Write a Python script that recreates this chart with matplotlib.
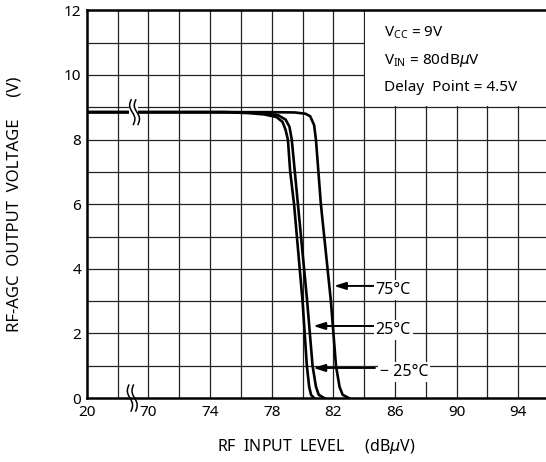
import numpy as np
import matplotlib
matplotlib.use('Agg')
import matplotlib.pyplot as plt
from matplotlib.patches import Rectangle

plt.rcParams['font.family'] = ['Noto Sans', 'DejaVu Sans']

# RF input level (dBuV) vs RF-AGC output voltage (V)
x_m25 = [66, 75, 76.5, 77.5, 78.3, 78.7, 78.9, 79.05, 79.2, 79.45, 80.0, 80.28, 80.43, 80.55, 80.75]
v_m25 = [8.85, 8.85, 8.82, 8.78, 8.7, 8.55, 8.3, 8.0, 7.0, 6.0, 3.0, 1.0, 0.35, 0.1, 0.0]
x_25 = [66, 75, 76.5, 77.5, 78.4, 78.9, 79.15, 79.3, 79.5, 79.7, 80.3, 80.65, 80.87, 81.05, 81.4]
v_25 = [8.85, 8.85, 8.84, 8.82, 8.76, 8.62, 8.4, 8.0, 7.0, 6.0, 3.0, 1.0, 0.35, 0.1, 0.0]
x_75 = [66, 78, 79.5, 80.2, 80.5, 80.75, 80.87, 81.03, 81.19, 81.84, 82.17, 82.4, 82.6, 83.0]
v_75 = [8.85, 8.85, 8.84, 8.8, 8.72, 8.45, 8.0, 7.0, 6.0, 3.0, 1.0, 0.35, 0.1, 0.0]

xticks = [66, 70, 74, 78, 82, 86, 90, 94]
xticklabels = ['20', '70', '74', '78', '82', '86', '90', '94']
yticks = [0, 2, 4, 6, 8, 10, 12]

labels = ['75°C', '25°C', '− 25°C']
arrow_tips = [(82.04, 3.47), (80.7, 2.23), (80.7, 0.93)]

conditions = ['V$_{\\mathregular{CC}}$ = 9V', 'V$_{\\mathregular{IN}}$ = 80dB$\\mu$V', 'Delay  Point = 4.5V']


def squiggle(ax, x0, y0, h):
    # break mark: two small wavy strokes
    t = np.linspace(0, 1, 40)
    for dx in (0, 0.3):
        xs = x0 + dx + 0.13 * np.sin(2 * np.pi * t) - 0.15 * (t - 0.5)
        ys = y0 + h * (t - 0.5) * 2
        ax.plot(xs, ys, color='k', lw=1.1, clip_on=False, zorder=6)


fig = plt.figure(figsize=(5.46, 4.62), dpi=100)
ax = fig.add_axes([0.159, 0.1385, 0.841, 0.839])

ax.set_xlim(66, 95.8)
ax.set_ylim(0, 12)

for xv in range(68, 96, 2):
    ax.axvline(xv, color='#222222', lw=0.9, zorder=1)
for yv in range(1, 12):
    ax.axhline(yv, color='#222222', lw=0.9, zorder=1)

# condition box covers grid
ax.add_patch(Rectangle((84.08, 9.04), 12, 3, facecolor='white', edgecolor='none', zorder=2))
for i, s in enumerate(conditions):
    ax.text(85.3, 11.3 - i * 0.84, s, fontsize=11, va='center', ha='left', zorder=3)

ax.plot(x_m25, v_m25, color='k', lw=1.9, zorder=4)
ax.plot(x_25, v_25, color='k', lw=1.9, zorder=4)
ax.plot(x_75, v_75, color='k', lw=1.9, zorder=4)

for lab, (tx, ty) in zip(labels, arrow_tips):
    ax.annotate('', xy=(tx, ty), xytext=(84.7, ty),
                arrowprops=dict(arrowstyle='-|>,head_length=0.7,head_width=0.22',
                                color='k', lw=1.4, shrinkA=0, shrinkB=0), zorder=5)
    ax.text(84.75 if not lab.startswith('−') else 85.0, ty - 0.12, lab, fontsize=11.5,
            va='center', ha='left', zorder=5,
            bbox=dict(facecolor='white', edgecolor='none', pad=1.5))

# break marks
ax.add_patch(Rectangle((68.75, 8.6), 0.55, 0.5, facecolor='white', edgecolor='none', zorder=5))
squiggle(ax, 68.95, 8.85, 0.38)
squiggle(ax, 68.8, 0.0, 0.4)

ax.set_xticks(xticks)
ax.set_xticklabels(xticklabels)
ax.set_yticks(yticks)
ax.tick_params(length=0, labelsize=11, pad=4)
ax.tick_params(axis='x', pad=5)

for side in ['left', 'top', 'bottom']:
    ax.spines[side].set_linewidth(1.8)
ax.spines['right'].set_visible(False)

ax.set_xlabel('RF  INPUT  LEVEL     (dB$\\mu$V)', fontsize=11.5, labelpad=12)
ax.set_ylabel('RF-AGC  OUTPUT  VOLTAGE     (V)', fontsize=12, labelpad=30)

fig.savefig('out.png', dpi=100)
